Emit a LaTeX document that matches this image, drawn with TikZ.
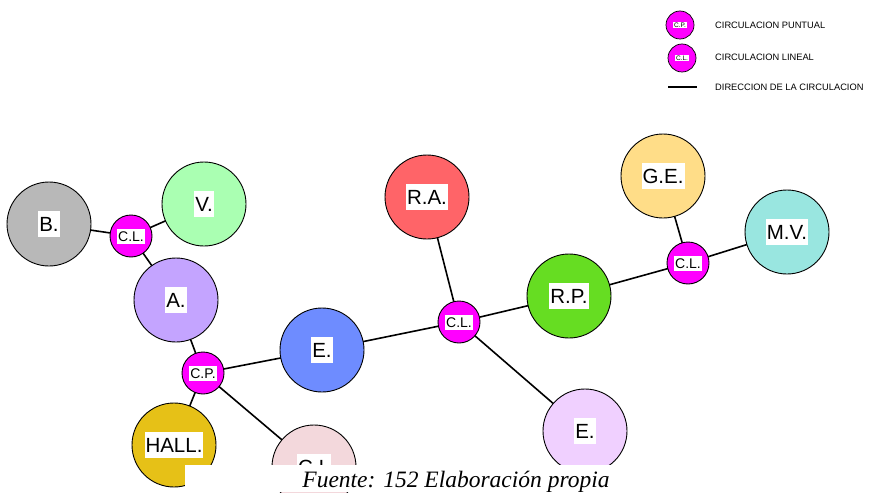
\documentclass[tikz,border=0pt]{standalone}
\usepackage{fontspec}
\setmainfont{Liberation Serif}
\newfontfamily\arial{Liberation Sans}
\usetikzlibrary{backgrounds}
\definecolor{mag}{HTML}{FF00FF}
\definecolor{cB}{HTML}{B8B8B8}
\definecolor{cV}{HTML}{AAFFB2}
\definecolor{cA}{HTML}{C4A4FF}
\definecolor{cHALL}{HTML}{E6C117}
\definecolor{cCI}{HTML}{F3D8DC}
\definecolor{cE}{HTML}{6E8CFF}
\definecolor{cRA}{HTML}{FF6468}
\definecolor{cRP}{HTML}{66DD22}
\definecolor{cEE}{HTML}{F0D0FF}
\definecolor{cGE}{HTML}{FFDD88}
\definecolor{cMV}{HTML}{99E6E0}
\begin{document}
\begin{tikzpicture}[x=1pt,y=-1pt,
  room/.style={circle,draw=black,line width=0.9pt,minimum size=84pt,inner sep=0pt},
  hub/.style={circle,draw=black,line width=0.9pt,fill=mag,minimum size=42pt,inner sep=0pt},
  biglbl/.style={fill=white,inner xsep=1pt,inner ysep=0pt,text height=20pt,text depth=6pt,font=\arial\fontsize{20.5}{24}\selectfont},
  smalllbl/.style={fill=white,inner xsep=1pt,inner ysep=0pt,text height=12.5pt,text depth=2.5pt,font=\arial\fontsize{14}{16}\selectfont},
  tinylbl/.style={fill=white,inner xsep=0.8pt,inner ysep=0pt,text height=5.5pt,text depth=1.2pt,font=\arial\fontsize{6.5}{7}\selectfont},
  legtext/.style={anchor=west,inner sep=0pt,font=\arial\fontsize{9.3}{11}\selectfont},
  link/.style={line width=1.6pt,draw=black}]
\useasboundingbox (0,0) rectangle (869,492);
% rooms
\node[room,fill=cB,label={[biglbl]center:B.}] (b) at (49,224) {};
\node[room,fill=cV,label={[biglbl]center:V.}] (v) at (204,204) {};
\node[room,fill=cA,label={[biglbl]center:A.}] (a) at (176,300) {};
\node[room,fill=cHALL,label={[biglbl]center:HALL.}] (hall) at (174,445) {};
\node[room,fill=cCI,label={[biglbl]center:C.I.}] (ci) at (314,467) {};
\node[room,fill=cE,label={[biglbl]center:E.}] (e1) at (322,350) {};
\node[room,fill=cRA,label={[biglbl]center:R.A.}] (ra) at (427,197) {};
\node[room,fill=cRP,label={[biglbl]center:R.P.}] (rp) at (569,296) {};
\node[room,fill=cEE,label={[biglbl]center:E.}] (e2) at (585,431) {};
\node[room,fill=cGE,label={[biglbl]center:G.E.}] (ge) at (663,176) {};
\node[room,fill=cMV,label={[biglbl]center:M.V.}] (mv) at (787,232) {};
% hubs
\node[hub,label={[smalllbl]center:C.L.}] (cl1) at (131,236) {};
\node[hub,label={[smalllbl]center:C.P.}] (cp) at (203,373) {};
\node[hub,label={[smalllbl]center:C.L.}] (cl2) at (459,322) {};
\node[hub,label={[smalllbl]center:C.L.}] (cl3) at (688,263) {};
% connectors
\begin{pgfonlayer}{background}
\draw[link] (b.center) -- (cl1.center);
\draw[link] (cl1.center) -- (v.center);
\draw[link] (cl1.center) -- (a.center);
\draw[link] (a.center) -- (cp.center);
\draw[link] (cp.center) -- (hall.center);
\draw[link] (cp.center) -- (e1.center);
\draw[link] (cp.center) -- (ci.center);
\draw[link] (e1.center) -- (cl2.center);
\draw[link] (cl2.center) -- (ra.center);
\draw[link] (cl2.center) -- (rp.center);
\draw[link] (cl2.center) -- (e2.center);
\draw[link] (rp.center) -- (cl3.center);
\draw[link] (cl3.center) -- (ge.center);
\draw[link] (cl3.center) -- (mv.center);
\end{pgfonlayer}
% legend
\node[hub,minimum size=28pt,line width=0.7pt,label={[tinylbl]center:C.P.}] (lcp) at (680,25) {};
\node[hub,minimum size=28pt,line width=0.7pt,label={[tinylbl]center:C.L.}] (lcl) at (682,58) {};
\coordinate (la) at (668,87);
\coordinate (lb) at (697,87);
\draw[line width=1.3pt] (la) -- (lb);
\node[legtext] (t1) at (715,25) {CIRCULACION PUNTUAL};
\node[legtext] (t2) at (715,57) {CIRCULACION LINEAL};
\node[legtext] (t3) at (715,87) {DIRECCION DE LA CIRCULACION};
% mask and caption
\fill[white] (185,465) rectangle (869,492);
\node[anchor=base,inner sep=0pt,font=\itshape\fontsize{23.5}{26}\selectfont] (cap) at (456,487) {Fuente: 152 Elaboración propia};
\end{tikzpicture}
\end{document}
